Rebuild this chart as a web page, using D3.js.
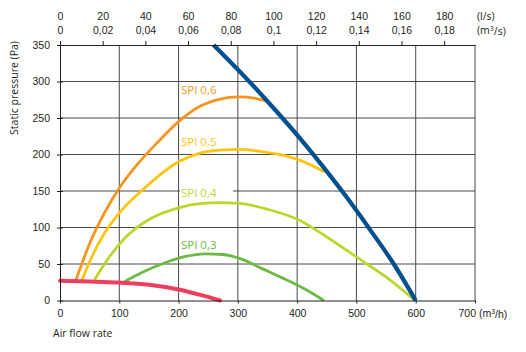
<!DOCTYPE html>
<html>
<head>
<meta charset="utf-8">
<script src="https://cdn.jsdelivr.net/npm/d3@7"></script>
<style>
  body { margin: 0; background: #fff; }
  svg { font-family: "Open Sans", sans-serif; }
  .tick text, .lbl { fill: #231f20; font-size: 10.5px; }
</style>
</head>
<body>
<div class="plot"></div>
<script>
// Data (flow in m3/h, pressure in Pa)
const flowTicks = [0, 100, 200, 300, 400, 500, 600, 700];
const pressTicks = [0, 50, 100, 150, 200, 250, 300, 350];
const lsTicks = [0, 20, 40, 60, 80, 100, 120, 140, 160, 180];
const m3sLabels = ["0", "0,02", "0,04", "0,06", "0,08", "0,1", "0,12", "0,14", "0,16", "0,18"];

const fanCurve = [[259,350],[318,301],[362,262],[407,220],[445,182],[483,142],[523,97],[563,50],[600,0]];
const spi06 = [[27,28],[50,78],[75,120],[100,154],[130,186],[165,217],[200,245],[236,266],[270,276],[301,279],[330,277],[352,272]];
const spi05 = [[37,28],[55,62],[75,92],[100,120],[140,152],[200,190],[236,202],[270,206],[303,207],[340,204],[376,199],[405,192],[447,176]];
const spi04 = [[58,28],[80,56],[110,86],[150,111],[200,127],[240,133],[270,134],[303,133],[350,125],[404,110],[450,87],[503,58],[557,28],[599,0]];
const spi03 = [[109,26],[140,39],[175,51],[210,60],[245,64],[275,63],[305,57],[340,44],[375,31],[410,17],[445,0]];
const systemCurve = [[0,27],[50,26],[100,24.5],[150,21.5],[200,15],[235,8],[270,0]];

const spiNames = ["SPI 0,6", "SPI 0,5", "SPI 0,4", "SPI 0,3"];
const spiLabelAt = [[204,283],[204,212],[204,142],[204,71]];
const spiColors = ["#f7941d", "#fdc40f", "#bfd62f", "#6cb944"];

const W = 526, H = 352;
const svg = d3.select(".plot").append("svg")
    .attr("width", W)
    .attr("height", H);

const x = d3.scaleLinear().domain([0, 700]).range([60, 475]);
const y = d3.scaleLinear().domain([0, 350]).range([300.5, 45]);
const xLs = d3.scaleLinear().domain([0, 700 / 3.6]).range([60, 475]);

// grid
svg.append("g").selectAll("line")
    .data(flowTicks.slice(1))
    .enter().append("line")
        .attr("x1", d => x(d)).attr("x2", d => x(d))
        .attr("y1", y(0)).attr("y2", y(350))
        .attr("stroke", "#4a4a4a");
svg.append("g").selectAll("line")
    .data(pressTicks.slice(1, -1))
    .enter().append("line")
        .attr("x1", x(0)).attr("x2", x(700))
        .attr("y1", d => y(d)).attr("y2", d => y(d))
        .attr("stroke", "#4a4a4a");

// labels with white box behind
const lab = svg.append("g").selectAll("g")
    .data(spiNames)
    .enter().append("g")
        .attr("transform", (d, i) => `translate(${x(spiLabelAt[i][0])},${y(spiLabelAt[i][1])})`);
lab.append("rect")
    .attr("x", -1).attr("y", -10)
    .attr("width", 53).attr("height", 13)
    .attr("fill", "#fff");
lab.append("text")
    .style("font-size", "11.5px")
    .attr("fill", (d, i) => spiColors[i])
    .text(d => d);

const line = d3.line()
    .x(d => x(d[0]))
    .y(d => y(d[1]))
    .curve(d3.curveMonotoneX);

// SPI curves
[spi06, spi05, spi04, spi03].forEach((s, i) => {
    svg.append("path")
        .datum(s)
        .attr("d", line)
        .attr("fill", "none")
        .attr("stroke", spiColors[i])
        .attr("stroke-width", 2.8);
});

// fan curve
svg.append("path")
    .datum(fanCurve)
    .attr("d", line)
    .attr("fill", "none")
    .attr("stroke", "#00508f")
    .attr("stroke-width", 4.2);

// system curve
svg.append("path")
    .datum(systemCurve)
    .attr("d", line)
    .attr("fill", "none")
    .attr("stroke", "#ee3d5d")
    .attr("stroke-width", 4)
    .attr("stroke-linecap", "round");

// bottom axis
const xAxis = svg.append("g")
    .attr("transform", `translate(0,${y(0)})`)
    .call(d3.axisBottom(x).tickValues(flowTicks).tickSize(3).tickSizeOuter(0).tickPadding(6));
xAxis.select(".domain").attr("stroke", "#231f20");
xAxis.selectAll(".tick line").attr("stroke", "#231f20");
xAxis.selectAll(".tick").filter(d => d === 700).select("text")
    .attr("text-anchor", "start")
    .attr("x", -17)
    .text("700 (m")
    .call(t => {
        t.append("tspan").attr("dy", "-0.4em").style("font-size", "7px").text("3");
        t.append("tspan").attr("dy", "0.4em").text("/h)");
    });

// left axis
const yAxis = svg.append("g")
    .attr("transform", `translate(${x(0)},0)`)
    .call(d3.axisLeft(y).tickValues(pressTicks).tickSize(3).tickSizeOuter(0).tickPadding(7));
yAxis.select(".domain").attr("stroke", "#231f20");
yAxis.selectAll(".tick line").attr("stroke", "#231f20").attr("x2", 3).attr("x1", -3);

// top axis (l/s and m3/s)
const topAxis = svg.append("g")
    .attr("transform", `translate(0,${y(350)})`)
    .call(d3.axisTop(xLs).tickValues(lsTicks).tickSize(4).tickSizeOuter(0).tickPadding(21));
topAxis.select(".domain").attr("stroke", "#231f20");
topAxis.selectAll(".tick line").attr("stroke", "#231f20");
topAxis.selectAll(".tick").append("text")
    .attr("y", -11)
    .attr("text-anchor", "middle")
    .text((d, i) => m3sLabels[i]);

svg.append("text").attr("class", "lbl")
    .attr("x", 477).attr("y", 20)
    .text("(l/s)");
svg.append("text").attr("class", "lbl")
    .attr("x", 477).attr("y", 34)
    .text("(m")
    .call(t => {
        t.append("tspan").attr("dy", "-0.4em").style("font-size", "7px").text("3");
        t.append("tspan").attr("dy", "0.4em").text("/s)");
    });

// axis titles
svg.append("text").attr("class", "lbl")
    .attr("transform", "translate(18,88) rotate(-90)")
    .attr("text-anchor", "middle")
    .text("Static pressure (Pa)");
svg.append("text").attr("class", "lbl")
    .attr("x", 53).attr("y", 337)
    .text("Air flow rate");
</script>
</body>
</html>
